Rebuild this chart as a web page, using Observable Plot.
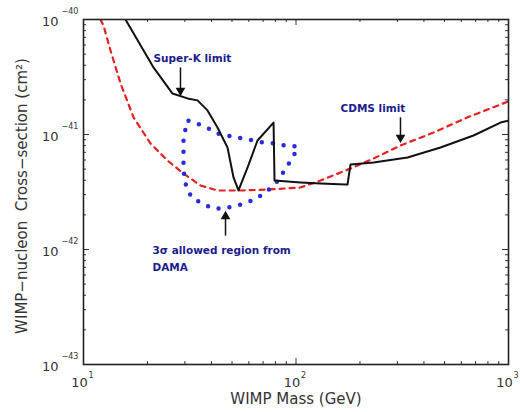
<!DOCTYPE html>
<html><head><meta charset="utf-8">
<script src="https://cdn.jsdelivr.net/npm/d3@7"></script>
<script src="https://cdn.jsdelivr.net/npm/@observablehq/plot@0.6"></script>
<style>body{margin:0;background:#fff;}</style>
</head><body><div id="chart"></div>
<script>
// Super-K limit (black solid)
const superKMass  = [15.76, 21.35, 26.24, 30.86, 34.40, 38.33, 42.72, 47.61, 50.81, 53.63, 59.13, 65.90, 78.40, 79.25, 105.0, 130.4, 171.0, 174.7, 180.5, 231.6, 334.7, 478.6, 684.4, 917.1, 1000];
const superKSigma = [1e-40, 3.83e-41, 2.27e-41, 2.06e-41, 1.98e-41, 1.62e-41, 1.15e-41, 7.71e-42, 4.23e-42, 3.26e-42, 5.16e-42, 8.87e-42, 1.27e-41, 3.98e-42, 3.83e-42, 3.75e-42, 3.67e-42, 3.67e-42, 5.48e-42, 5.71e-42, 6.31e-42, 7.71e-42, 9.8e-42, 1.27e-41, 1.32e-41];
// CDMS limit (red dashed)
const cdmsMass  = [12.02, 12.42, 13.4, 14.94, 17.19, 20.67, 24.85, 29.55, 35.53, 42.72, 54.81, 73.44, 105.0, 130.4, 180.5, 231.6, 310.2, 443.7, 641.7, 1000];
const cdmsSigma = [1e-40, 8.87e-41, 5.38e-41, 2.78e-41, 1.41e-41, 8.35e-42, 5.94e-42, 4.58e-42, 3.60e-42, 3.26e-42, 3.26e-42, 3.32e-42, 3.46e-42, 3.98e-42, 5.06e-42, 6.18e-42, 8.02e-42, 1.04e-41, 1.41e-41, 1.94e-41];
// DAMA 3-sigma allowed region (blue dotted, closed)
const damaMass  = [31.20, 37.51, 42.72, 53.05, 63.10, 70.31, 80.09, 89.25, 101.6, 97.32, 91.20, 86.41, 80.96, 71.86, 65.90, 59.13, 53.05, 45.59, 40.46, 36.31, 32.58, 30.52, 29.55, 29.55, 29.55, 29.55, 31.20];
const damaSigma = [1.32e-41, 1.17e-41, 1.02e-41, 9.42e-42, 8.87e-42, 8.52e-42, 8.35e-42, 8.02e-42, 7.86e-42, 6.44e-42, 5.37e-42, 4.58e-42, 3.83e-42, 3.13e-42, 2.83e-42, 2.56e-42, 2.41e-42, 2.27e-42, 2.27e-42, 2.51e-42, 2.78e-42, 3.39e-42, 4.86e-42, 6.31e-42, 8.02e-42, 9.8e-42, 1.32e-41];

// Axis ticks
const xMajor = [10, 100, 1000];
const xExp = ["1", "2", "3"];
const xMinor = [20, 30, 40, 50, 60, 70, 80, 90, 200, 300, 400, 500, 600, 700, 800, 900];
const yMajor = [1e-40, 1e-41, 1e-42, 1e-43];
const yExp = ["−40", "−41", "−42", "−43"];
const yMinor = [2, 3, 4, 5, 6, 7, 8, 9].flatMap(m => [m * 1e-43, m * 1e-42, m * 1e-41]);

// Annotations
const noteText = ["Super-K limit", "CDMS limit", "3σ allowed region from", "DAMA"];
const noteMass = [21.35, 161.9, 21.12, 21.12];
const noteSigma = [4.58e-41, 1.68e-41, 9.8e-43, 6.97e-43];
const arrowMass = [28.6, 310.2, 46.59];
const arrowFrom = [3.83e-41, 1.41e-41, 1.32e-42];
const arrowTo = [2.41e-41, 9.42e-42, 1.94e-42];
const arrowDir = [180, 180, 0];

const zip = (a, b) => a.map((v, i) => ({x: v, y: b[i]}));
const superK = zip(superKMass, superKSigma);
const cdms = zip(cdmsMass, cdmsSigma);
const dama = zip(damaMass, damaSigma);
const notes = noteText.map((t, i) => ({t, x: noteMass[i], y: noteSigma[i]}));
const arrows = arrowMass.map((x, i) => ({x, y1: arrowFrom[i], y2: arrowTo[i], r: arrowDir[i]}));

const W = 520, H = 412, mL = 83, mR = 12, mT = 19, mB = 48;
const pw = W - mL - mR, ph = H - mT - mB;
const font = "DejaVu Sans, Liberation Sans, Arial, sans-serif";
const tickCol = "#333";

const chart = Plot.plot({
  width: W, height: H,
  marginLeft: mL, marginRight: mR, marginTop: mT, marginBottom: mB,
  style: {fontFamily: font, background: "#fff"},
  x: {type: "log", domain: [10, 1000], axis: null},
  y: {type: "log", domain: [1e-43, 1e-40], axis: null},
  marks: [
    // inward ticks
    Plot.tickX(xMajor, {x: d => d, insetTop: ph - 6, stroke: tickCol}),
    Plot.tickX(xMinor, {x: d => d, insetTop: ph - 3, stroke: tickCol}),
    Plot.tickX(xMajor, {x: d => d, insetBottom: ph - 6, stroke: tickCol}),
    Plot.tickX(xMinor, {x: d => d, insetBottom: ph - 3, stroke: tickCol}),
    Plot.tickY(yMajor, {y: d => d, insetRight: pw - 6, stroke: tickCol}),
    Plot.tickY(yMinor, {y: d => d, insetRight: pw - 3, stroke: tickCol}),
    Plot.tickY(yMajor, {y: d => d, insetLeft: pw - 6, stroke: tickCol}),
    Plot.tickY(yMinor, {y: d => d, insetLeft: pw - 3, stroke: tickCol}),
    // curves
    Plot.line(cdms, {x: "x", y: "y", stroke: "#e82020", strokeWidth: 2.2, strokeDasharray: "5,5", clip: true}),
    Plot.line(dama, {x: "x", y: "y", stroke: "#2a2ae0", strokeWidth: 4.5, strokeDasharray: "0,11", strokeLinecap: "round", clip: true}),
    Plot.line(superK, {x: "x", y: "y", stroke: "#111", strokeWidth: 2, clip: true}),
    // frame
    Plot.frame({stroke: "#222", strokeWidth: 1.6}),
    // annotations
    Plot.text(notes, {x: "x", y: "y", text: "t", textAnchor: "start", fill: "#1c1c8e", fontWeight: "bold", fontSize: 10.5}),
    Plot.link(arrows, {x1: "x", x2: "x", y1: "y1", y2: "y2", stroke: "#111", strokeWidth: 1.5}),
    Plot.dot(arrows, {x: "x", y: "y2", symbol: "triangle", r: 3.6, rotate: "r", fill: "#111", stroke: "none"}),
    // tick labels
    Plot.text(xMajor, {x: d => d, frameAnchor: "bottom", text: () => "10", dy: 22, dx: -4, textAnchor: "middle", fontSize: 13, fill: tickCol}),
    Plot.text(xMajor, {x: d => d, frameAnchor: "bottom", text: (d, i) => xExp[i], dy: 13, dx: 5, textAnchor: "start", fontSize: 8, fill: tickCol}),
    Plot.text(yMajor, {y: d => d, frameAnchor: "left", text: () => "10", dx: -25, dy: 2, textAnchor: "end", fontSize: 13, fill: tickCol}),
    Plot.text(yMajor, {y: d => d, frameAnchor: "left", text: (d, i) => yExp[i], dx: -22, dy: -8, textAnchor: "start", fontSize: 8, fill: tickCol}),
    // axis titles
    Plot.text(["WIMP Mass (GeV)"], {frameAnchor: "bottom", dy: 39, textAnchor: "middle", fontSize: 15, fill: tickCol}),
    Plot.text(["WIMP−nucleon  Cross−section (cm²)"], {frameAnchor: "left", rotate: -90, dx: -61, dy: 4, textAnchor: "middle", fontSize: 15, fill: tickCol})
  ]
});
document.getElementById("chart").appendChild(chart);
</script>
</body></html>
